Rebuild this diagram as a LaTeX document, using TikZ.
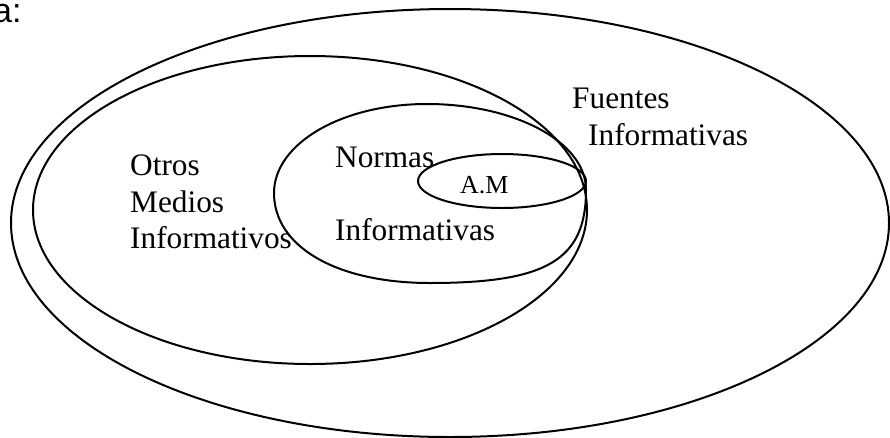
\documentclass[tikz,border=0pt]{standalone}
\usepackage{fontspec}
\setmainfont{Liberation Serif}
\newfontfamily\labelsans{Liberation Sans}
\begin{document}
\begin{tikzpicture}[x=1pt,y=-1pt,
  outline/.style={draw=black,line width=2pt},
  lbl/.style={inner sep=0pt,anchor=base west,font=\fontsize{31.3}{36}\selectfont},
  smalllbl/.style={inner sep=0pt,anchor=base west,font=\fontsize{26}{30}\selectfont}]
\useasboundingbox (0,0) rectangle (890,437);
% outer: Fuentes Informativas
\draw[outline] (450,223) ellipse [x radius=439, y radius=214];
% second: Otros Medios Informativos
\draw[outline] (310,210) ellipse [x radius=277, y radius=154];
% third: Normas Informativas
\draw[outline] (586,190)
  .. controls (586,259.8) and (547,283) .. (430,283)
  .. controls (336.4,283) and (274,246.6) .. (274,193)
  .. controls (274,144) and (341,104) .. (427,104)
  .. controls (513,104) and (586,141) .. (586,190) -- cycle;
% small: A.M
\draw[outline] (502,181) ellipse [x radius=84, y radius=27];
% labels
\node[inner sep=0pt,anchor=base west,font=\labelsans\fontsize{34}{40}\selectfont] (a) at (-7,22) {a:};
\node[lbl] (otros) at (130,175) {Otros};
\node[lbl] (medios) at (130,212) {Medios};
\node[lbl] (infmed) at (130,248) {Informativos};
\node[lbl] (normas) at (335,167) {Normas};
\node[lbl] (infnorm) at (335,240) {Informativas};
\node[smalllbl] (am) at (460,193) {A.M};
\node[lbl] (fuentes) at (572,108) {Fuentes};
\node[lbl] (inffuentes) at (588,145) {Informativas};
\end{tikzpicture}
\end{document}
